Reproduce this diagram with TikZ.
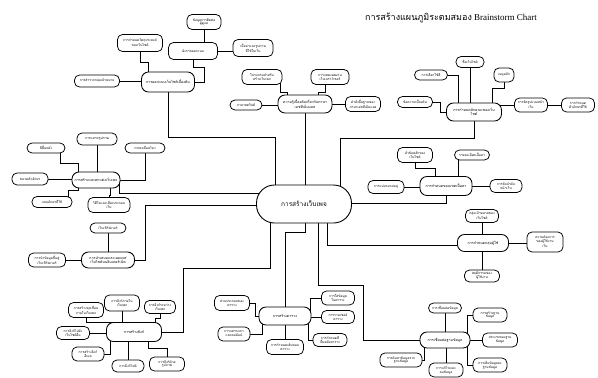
\documentclass[tikz,border=0pt]{standalone}
\usepackage{fontspec}
\setmainfont{Liberation Serif}
\newfontfamily\thai[Script=Thai]{Loma}
\pgfdeclarelayer{bg}
\pgfsetlayers{bg,main}
\begin{document}
\begin{tikzpicture}[x=1pt,y=-1pt,
  idea/.style={draw=black, line width=0.75pt, rounded corners=5pt, fill=white, align=center,
    inner sep=0pt, font=\thai\fontsize{3.3}{3.9}\selectfont},
  sub/.style={idea, rounded corners=7pt, line width=0.85pt, font=\thai\fontsize{3.6}{4.3}\selectfont},
  hub/.style={idea, rounded corners=18pt, line width=0.9pt, font=\thai\fontsize{6.5}{7}\selectfont},
  sz/.style 2 args={minimum width=#1pt, minimum height=#2pt},
  link/.style={draw=black, line width=0.75pt}]
\useasboundingbox (0,0) rectangle (598,378);

% heading
\node[font=\fontsize{9}{10}\selectfont] (title) at (451,18) {{\thai การสร้างแผนภูมิระดมสมอง} Brainstorm Chart};

% central topic
\node[hub, sz={95}{38}] (C) at (304,204) {การสร้างเว็บเพจ};

% planning branch
\node[sub, sz={53}{20}] (tlm) at (168,82) {การออกแบบเว็บไซต์เบื้องต้น};
\node[idea, sz={45}{17}] (tl4) at (140,43) {การกำหนดวัตถุประสงค์\\ของเว็บไซต์};
\node[idea, sz={49}{17}] (tl1) at (193,51) {ผังการออกแบบ};
\node[idea, sz={34}{15}] (tl2) at (204,22) {ข้อมูลการติดต่อ\\ผู้ดูแล};
\node[idea, sz={40}{17}] (tl3) at (253,48) {เนื้อหาและรูปภาพ\\ที่ใช้ในเว็บ};
\node[idea, sz={45}{12}] (tl5) at (97,81) {การสำรวจกลุ่มเป้าหมาย};

% HTML branch
\node[sub, sz={54}{18}] (tmm) at (305,104) {ความรู้เบื้องต้นเกี่ยวกับภาษา\\เอชทีเอ็มแอล};
\node[idea, sz={32}{10}] (tml) at (246,105) {ภาษาสคริปต์};
\node[idea, sz={35}{15}] (tmr) at (363,104) {คำสั่งพื้นฐานของ\\ภาษาเอชทีเอ็มแอล};
\node[idea, sz={40}{15}] (tmu1) at (262,77) {โปรแกรมสำหรับ\\สร้างเว็บเพจ};
\node[idea, sz={38}{15}] (tmu2) at (330,77) {การแสดงผลผ่าน\\เว็บเบราว์เซอร์};

% site character branch
\node[sub, sz={55}{18}] (trm) at (474,112) {การกำหนดลักษณะของเว็บ\\ไซต์};
\node[idea, sz={28}{11}] (tr1) at (470,62) {ชื่อเว็บไซต์};
\node[idea, sz={33}{10}] (tr2) at (431,75) {การเลือกใช้สี};
\node[idea, sz={20}{14}] (tr3) at (504,75) {เมนูหลัก};
\node[idea, sz={35}{11}] (tr4) at (415,102) {ข้อความเบื้องต้น};
\node[idea, sz={33}{14}] (tr5) at (531,105) {การจัดรูปแบบหน้า\\เว็บ};
\node[idea, sz={33}{14}] (tr6) at (578,105) {การกำหนด\\ตัวอักษรที่ใช้};

% decoration branch
\node[sub, sz={48}{16}] (lmm) at (96,180) {การสร้างและตกแต่งเว็บเพจ};
\node[idea, sz={38}{10}] (lm1) at (46,148) {สีพื้นหลัง};
\node[idea, sz={40}{12}] (lm2) at (97,139) {การแทรกรูปภาพ};
\node[idea, sz={40}{10}] (lm3) at (145,148) {ภาพเคลื่อนไหว};
\node[idea, sz={36}{12}] (lm4) at (30,179) {ขนาดตัวอักษร};
\node[idea, sz={40}{11}] (lm5) at (52,202) {แบบอักษรที่ใช้};
\node[idea, sz={42}{15}] (lm6) at (109,205) {วิดีโอและเสียงประกอบ\\เว็บ};

% publishing branch
\node[sub, sz={53}{16}] (pbm) at (108,260) {การนำเสนอและเผยแพร่\\เว็บไซต์บนอินเทอร์เน็ต};
\node[idea, sz={36}{10}] (pb1) at (108,228) {เว็บเซิร์ฟเวอร์};
\node[idea, sz={37}{14}] (pb2) at (47,260) {การนำข้อมูลขึ้นสู่\\เว็บเซิร์ฟเวอร์};

% link branch
\node[sub, sz={55}{19}] (blm) at (134,332) {การสร้างลิงก์};
\node[idea, sz={35}{16}] (bl1) at (122,303) {การลิงก์ภายใน\\เว็บเพจ};
\node[idea, sz={31}{13}] (bl2) at (160,307) {การลิงก์ระหว่าง\\เว็บเพจ};
\node[idea, sz={35}{15}] (bl3) at (86,310) {การสร้างจุดเชื่อม\\ภายในเว็บเพจ};
\node[idea, sz={33}{13}] (bl4) at (73,333) {การลิงก์ไปยัง\\เว็บไซต์อื่น};
\node[idea, sz={32}{14}] (bl5) at (88,354) {การสร้างลิงก์\\อีเมล};
\node[idea, sz={32}{12}] (bl6) at (128,366) {การลิงก์ไฟล์};
\node[idea, sz={35}{14}] (bl7) at (167,364) {การลิงก์ด้วย\\รูปภาพ};

% table branch
\node[sub, sz={52}{18}] (bmm) at (285,316) {การสร้างตาราง};
\node[idea, sz={33}{14}] (bm1) at (338,298) {การใส่ข้อมูล\\ในตาราง};
\node[idea, sz={33}{13}] (bm2) at (338,317) {การรวมเซลล์\\ตาราง};
\node[idea, sz={34}{13}] (bm3) at (330,340) {การกำหนดสี\\พื้นหลังตาราง};
\node[idea, sz={37}{15}] (bm4) at (285,347) {การกำหนดเส้นขอบ\\ตาราง};
\node[idea, sz={35}{15}] (bm5) at (232,303) {ส่วนประกอบของ\\ตาราง};
\node[idea, sz={32}{14}] (bm6) at (234,334) {การแทรกแถว\\และคอลัมน์};

% database branch
\node[sub, sz={50}{16}] (brm) at (445,340) {การเชื่อมต่อฐานข้อมูล};
\node[idea, sz={33}{10}] (br1) at (445,308) {การเชื่อมต่อข้อมูล};
\node[idea, sz={34}{14}] (br2) at (490,315) {การสร้างฐาน\\ข้อมูล};
\node[idea, sz={35}{14}] (br3) at (500,340) {ประเภทของฐาน\\ข้อมูล};
\node[idea, sz={34}{14}] (br4) at (490,365) {การเพิ่มข้อมูลลง\\ฐานข้อมูล};
\node[idea, sz={34}{14}] (br5) at (446,370) {การแก้ไขและ\\ลบข้อมูล};
\node[idea, sz={42}{14}] (br6) at (401,360) {การค้นหาข้อมูลจาก\\ฐานข้อมูล};

% content scope branch
\node[sub, sz={52}{19}] (rmm) at (446,186) {การกำหนดขอบเขตเนื้อหา};
\node[idea, sz={36}{13}] (rm1) at (386,187) {การแบ่งหมวดหมู่};
\node[idea, sz={35}{15}] (rm2) at (415,155) {หัวข้อหลักของ\\เว็บไซต์};
\node[idea, sz={35}{10}] (rm3) at (472,155) {รายละเอียดเนื้อหา};
\node[idea, sz={32}{13}] (rm4) at (506,186) {การจัดลำดับ\\หน้าเว็บ};

% audience branch
\node[sub, sz={51}{17}] (aum) at (483,243) {การกำหนดกลุ่มผู้ใช้};
\node[idea, sz={33}{13}] (au1) at (482,216) {กลุ่มเป้าหมายของ\\เว็บไซต์};
\node[idea, sz={36}{20}] (au2) at (545,242) {ความต้องการ\\ของผู้ใช้งาน\\เว็บ};
\node[idea, sz={35}{12}] (au3) at (482,276) {พฤติกรรมของ\\ผู้ใช้งาน};

\begin{pgfonlayer}{bg}
\fill[white] (0,0) rectangle (598,378);
% planning
\draw[link] (tl5) -- (tl5 -| tlm);
\draw[link] (tl4) -- ++(0,19) -| ([xshift=-20pt]tlm.center);
\draw[link] (tl1) -- ++(0,16) -| (204,82) -- (tlm);
\draw[link] (tl2) -- (tl2 |- tl1);
\draw[link] (tl1) -- (tl1 -| tl3);
\draw[link] (tlm) |- (275,137) -- ([xshift=-29pt]C.center);
% HTML
\draw[link] (tml) -- (tml -| tmm);
\draw[link] (tmm) -- (tmm -| tmr);
\draw[link] ([xshift=18pt]tmu1.center) -- ++(0,15) -| ([xshift=-18pt]tmm.center);
\draw[link] ([xshift=-5pt]tmu2.center) -- ++(0,15) -| ([xshift=13pt]tmm.center);
\draw[link] (tmm) -- (tmm |- C);
% site character
\draw[link] (tr1) -- (tr1 |- trm);
\draw[link] (tr2) -| ([xshift=-16pt]trm.center);
\draw[link] (tr3) -- ++(0,13) -| ([xshift=18pt]trm.center);
\draw[link] (tr4) -- ++(25,0) |- (trm);
\draw[link] (tr5) -- (tr5 -| trm);
\draw[link] (tr5) -- (tr6);
\draw[link] (trm) |- (340,138) -- ([xshift=36pt]C.center);
% decoration
\draw[link] ([xshift=14pt]lm1.center) -- ++(0,15) -| ([xshift=-18pt]lmm.center);
\draw[link] (lm2) -- (lm2 |- lmm);
\draw[link] (lm3) |- (lmm);
\draw[link] (lm4) -- (lm4 -| lmm);
\draw[link] ([xshift=16pt]lm5.center) -- ++(0,-12) -| ([xshift=-18pt]lmm.center);
\draw[link] (lm6) -- ++(0,-10) -| ([xshift=14pt]lmm.center);
\draw[link] ([yshift=11pt]C.center) -| ([xshift=23pt]lmm.center);
% publishing
\draw[link] (pb1) -- (pb1 |- pbm);
\draw[link] (pb2) -- (pb2 -| pbm);
\draw[link] (pbm) -- (145,260) |- ([yshift=-1pt]C.center);
% links
\draw[link] (bl1) -- (bl1 |- blm);
\draw[link] (bl2) -- ++(0,11) -| ([xshift=21pt]blm.center);
\draw[link] (bl3) |- (112,322) -- (112,332);
\draw[link] (bl4) -- (bl4 -| blm);
\draw[link] (bl5) -| ([xshift=-24pt]blm.center);
\draw[link] (bl6) -- (bl6 |- blm);
\draw[link] (bl7) |- (148,348) -- ([xshift=14pt]blm.center);
\draw[link] (blm) -| (183,268) -| ([xshift=-34pt]C.center);
% tables
\draw[link] (bm1) -| (310,316);
\draw[link] (bm2) -- (bm2 -| bmm);
\draw[link] (bm3) -| (308,316);
\draw[link] (bm4) -- (bmm);
\draw[link] (bm5) -| (255,316) -- (bmm);
\draw[link] (bm6) -| (262,316);
\draw[link] ([xshift=1pt]C.center) |- (285,232) -- (bmm);
% database
\draw[link] (br1) -- (brm);
\draw[link] (br2) -| (467,340);
\draw[link] (br3) -- (br3 -| brm);
\draw[link] (br4) -| (467,340);
\draw[link] (br5) -- (br5 |- brm);
\draw[link] (br6) -| (424,340);
\draw[link] ([xshift=14pt]C.center) |- (363,285) |- (brm);
% content scope
\draw[link] (rm1) -- (rm1 -| rmm);
\draw[link] (rm2) |- (435,168) -- (435,186);
\draw[link] ([xshift=-14pt]rm3.center) -- ([xshift=-14pt]rm3.center |- rmm.center);
\draw[link] (rmm) -- (rmm -| rm4);
\draw[link] ([yshift=1pt]C.center) -| (rmm);
% audience
\draw[link] (au1) -- (au1 |- aum);
\draw[link] (aum) -- (aum -| au2);
\draw[link] (au3) -- (au3 |- aum);
\draw[link] ([xshift=23pt]C.center) |- ([yshift=-2pt]aum.center);
\end{pgfonlayer}
\end{tikzpicture}
\end{document}
